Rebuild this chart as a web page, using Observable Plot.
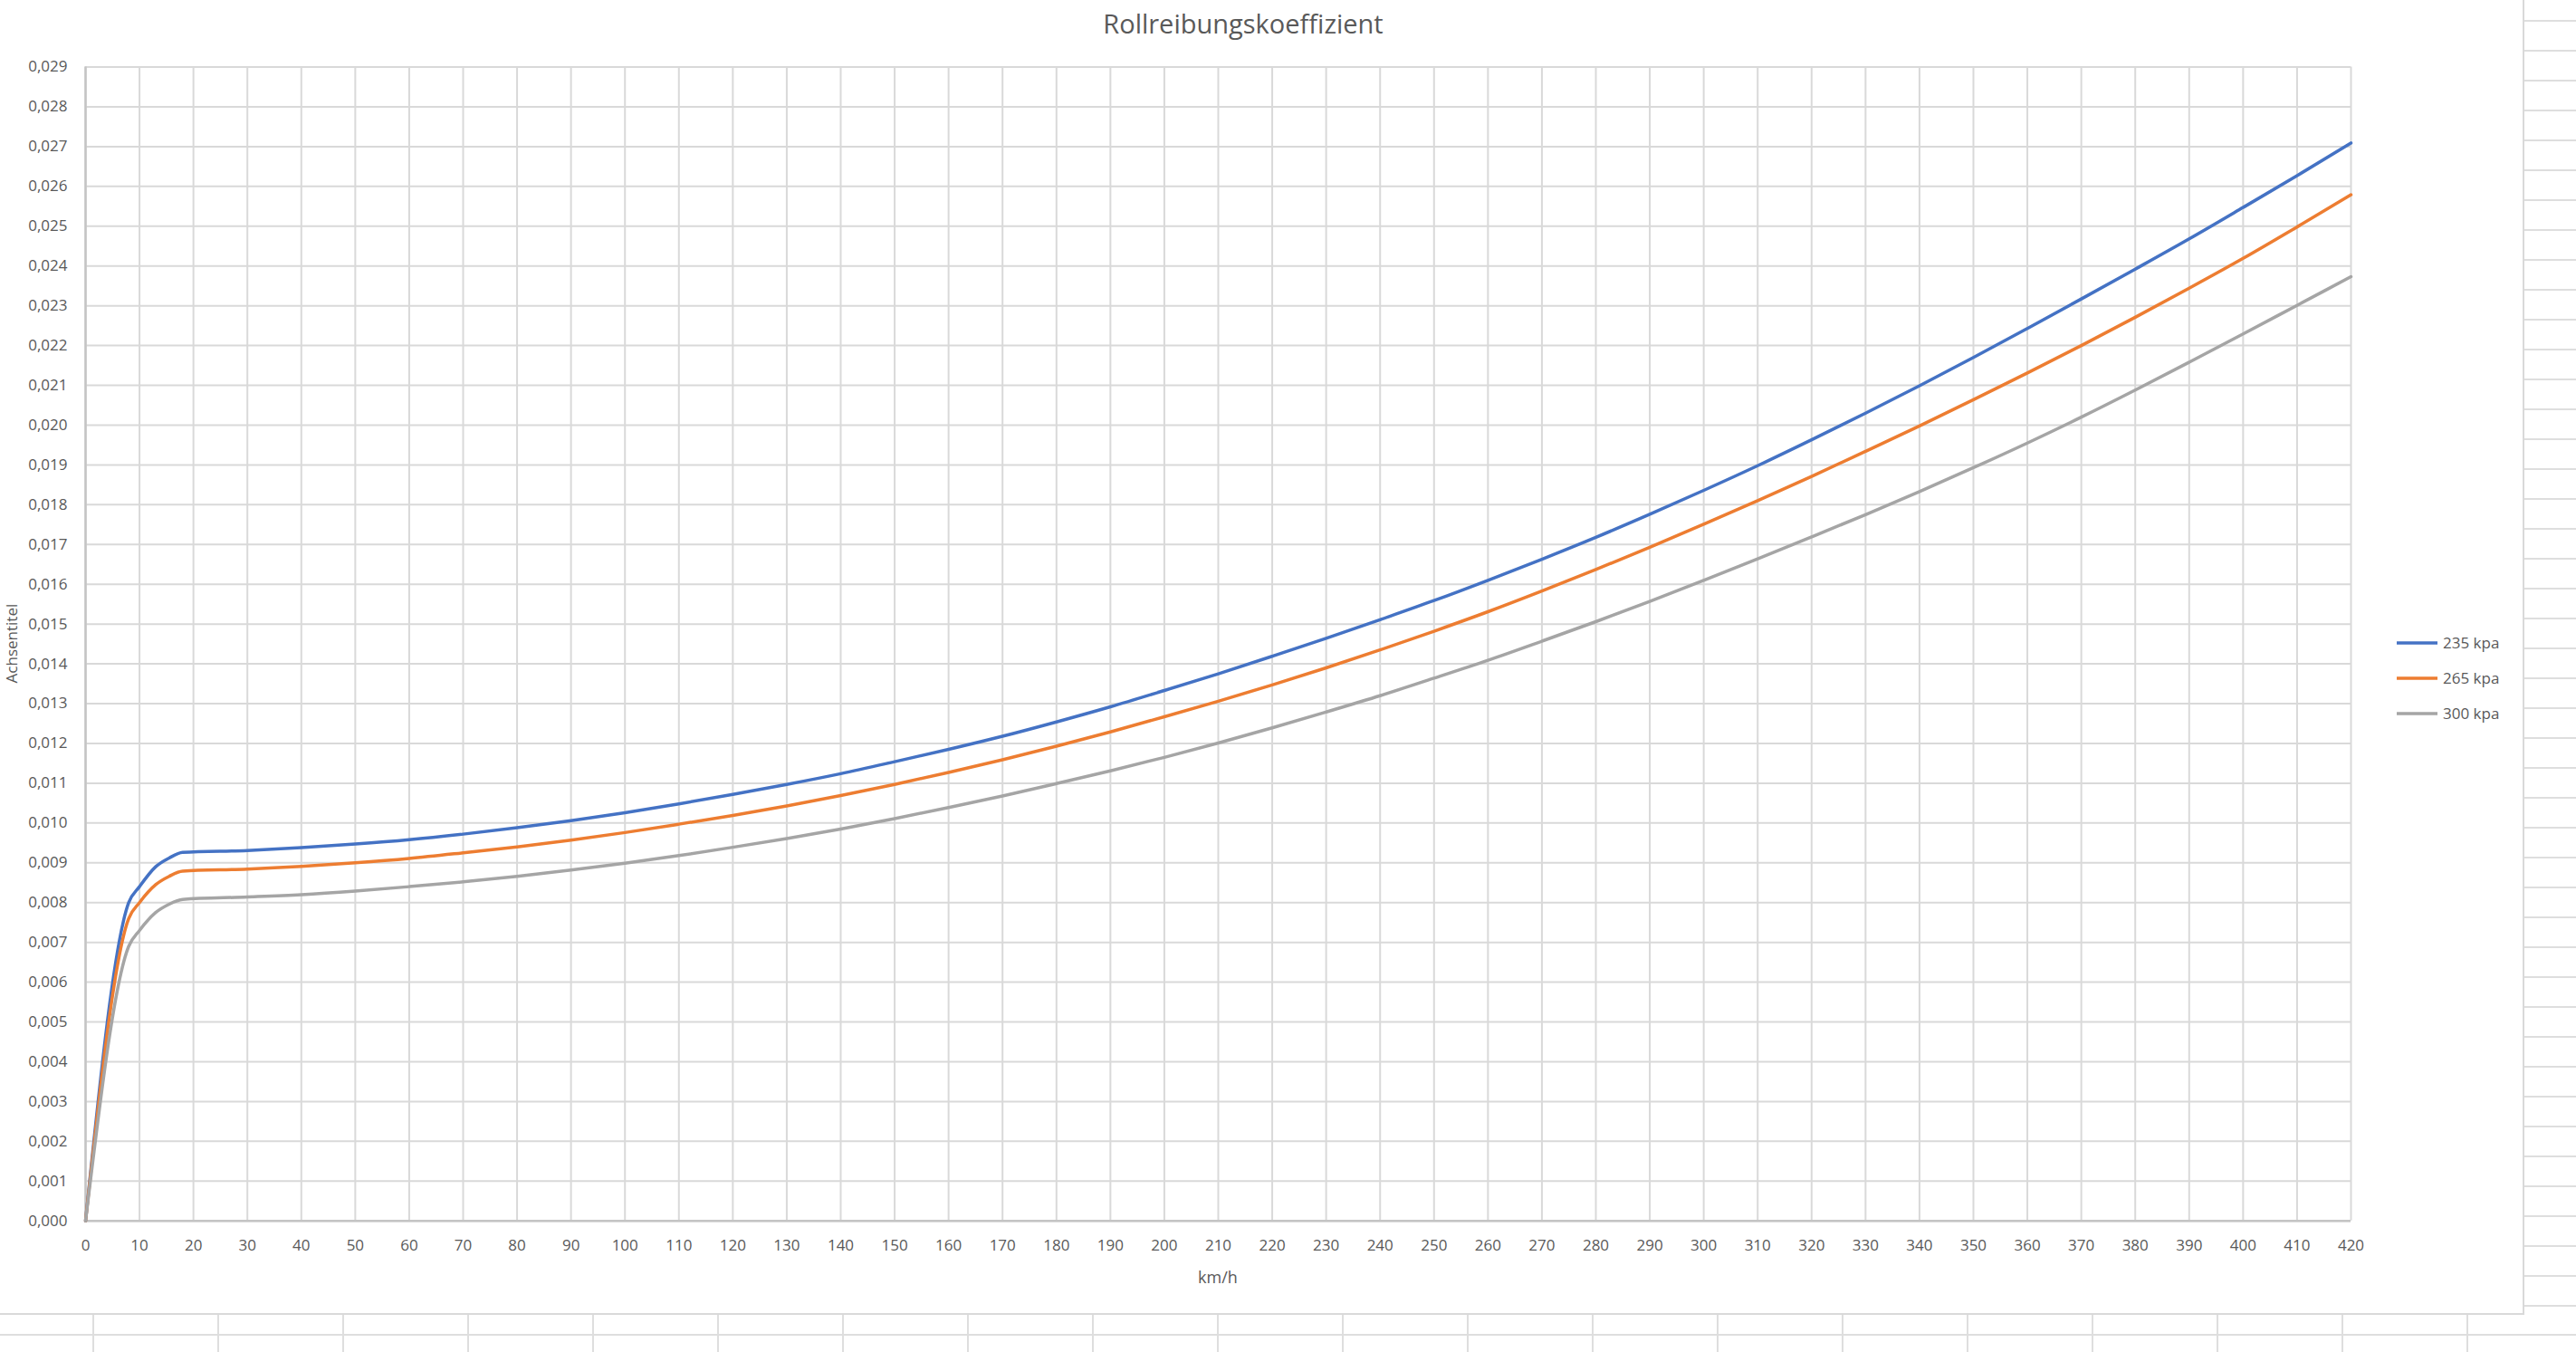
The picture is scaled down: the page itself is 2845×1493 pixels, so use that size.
<!DOCTYPE html>
<html><head><meta charset="utf-8">
<script src="https://cdn.jsdelivr.net/npm/d3@7"></script>
<script src="https://cdn.jsdelivr.net/npm/@observablehq/plot@0.6"></script>
<style>
html,body{margin:0;padding:0;background:#fff;}
#wrap{position:relative;width:2845px;height:1493px;overflow:hidden;font-family:"Open Sans",sans-serif;}
.abs{position:absolute;}
#area{left:-20px;top:-20px;width:2806px;height:1470px;border-right:2px solid #d9d9d9;border-bottom:2px solid #d9d9d9;background:#fff;}
#cellsR{left:2788px;top:0;width:57px;height:1474px;background-image:linear-gradient(#dedede 2px, transparent 2px);background-size:100% 33px;background-position:0 22px;}
#cellsB{left:0;top:1452px;width:2845px;height:41px;
  background-image:linear-gradient(to right,#dedede 2px,transparent 2px),linear-gradient(#dedede 2px,transparent 2px);
  background-size:138px 100%,100% 200px;background-position:102px 0,0 21px;background-repeat:repeat-x,no-repeat;}
#plot svg{position:absolute;left:0;top:0;}
#overlay{position:absolute;left:0;top:0;}
</style>
</head><body>
<div id="wrap">
  <div id="cellsR" class="abs"></div>
  <div id="cellsB" class="abs"></div>
  <div id="area" class="abs"></div>
  <div id="plot"></div>
  <svg id="overlay" width="2845" height="1493"></svg>
</div>
<script>
// ---- Data ----
const chartTitle = "Rollreibungskoeffizient";
const xTitle = "km/h";
const yTitle = "Achsentitel";
const series = ["235 kpa", "265 kpa", "300 kpa"];
const colors = ["#4472C4", "#ED7D31", "#A5A5A5"];

const xTicks = [0,10,20,30,40,50,60,70,80,90,100,110,120,130,140,150,160,170,180,190,200,210,220,230,240,250,260,270,280,290,300,310,320,330,340,350,360,370,380,390,400,410,420];
const yTicks = [0,0.001,0.002,0.003,0.004,0.005,0.006,0.007,0.008,0.009,0.010,0.011,0.012,0.013,0.014,0.015,0.016,0.017,0.018,0.019,0.020,0.021,0.022,0.023,0.024,0.025,0.026,0.027,0.028,0.029];

const speed = [0, 8, 10, 13, 15.5, 18, 30, 40, 50, 60, 70, 80, 90, 100, 110, 120, 130, 140, 150, 160, 170, 180, 190, 200, 210, 220, 230, 240, 250, 260, 270, 280, 290, 300, 310, 320, 330, 340, 350, 360, 370, 380, 390, 400, 410, 420];

const kpa235 = [0, 0.00800, 0.00840, 0.00890, 0.00912, 0.00926, 0.00931, 0.00938, 0.00947, 0.00958, 0.00972, 0.00988, 0.01006, 0.01026, 0.01048, 0.01072, 0.01097, 0.01124, 0.01154, 0.01185, 0.01218, 0.01254, 0.01292, 0.01333, 0.01375, 0.01419, 0.01464, 0.01511, 0.01559, 0.01610, 0.01663, 0.01718, 0.01776, 0.01836, 0.01898, 0.01963, 0.02030, 0.02099, 0.02170, 0.02243, 0.02317, 0.02392, 0.02468, 0.02547, 0.02627, 0.02709];

const kpa265 = [0, 0.00760, 0.00800, 0.00845, 0.00866, 0.00879, 0.00884, 0.00891, 0.00900, 0.00911, 0.00925, 0.00940, 0.00957, 0.00976, 0.00997, 0.01019, 0.01043, 0.01069, 0.01097, 0.01127, 0.01159, 0.01193, 0.01229, 0.01267, 0.01306, 0.01347, 0.01390, 0.01435, 0.01482, 0.01531, 0.01583, 0.01637, 0.01693, 0.01751, 0.01810, 0.01871, 0.01934, 0.01998, 0.02064, 0.02131, 0.02200, 0.02271, 0.02344, 0.02419, 0.02498, 0.02579];

const kpa300 = [0, 0.00690, 0.00730, 0.00775, 0.00796, 0.00808, 0.00814, 0.00820, 0.00829, 0.00840, 0.00852, 0.00866, 0.00882, 0.00899, 0.00918, 0.00939, 0.00961, 0.00985, 0.01011, 0.01039, 0.01068, 0.01099, 0.01131, 0.01165, 0.01201, 0.01239, 0.01279, 0.01320, 0.01364, 0.01409, 0.01457, 0.01506, 0.01557, 0.01610, 0.01664, 0.01719, 0.01775, 0.01833, 0.01893, 0.01955, 0.02020, 0.02088, 0.02158, 0.02229, 0.02301, 0.02373];

const values = [kpa235, kpa265, kpa300];
const data = series.flatMap((s, i) => speed.map((v, j) => ({series: s, speed: v, value: values[i][j]})));

// ---- Layout ----
const W = 2845, H = 1493;
const mL = 94, mR = 249, mT = 73.5, mB = 145.3;
const textColor = "#595959";
const fmt = d => d3.format(".3f")(d).replace(".", ",");

const chart = Plot.plot({
  width: W, height: H,
  marginLeft: mL, marginRight: mR, marginTop: mT, marginBottom: mB,
  style: {fontFamily: "'Open Sans', sans-serif", fontSize: "17px", color: textColor, background: "transparent", maxWidth: "none"},
  x: {domain: [0, 420]},
  y: {domain: [0, 0.029]},
  color: {domain: series, range: colors},
  marks: [
    Plot.gridX(xTicks, {stroke: "#d9d9d9", strokeOpacity: 1, strokeWidth: 2}),
    Plot.gridY(yTicks, {stroke: "#d9d9d9", strokeOpacity: 1, strokeWidth: 2}),
    Plot.ruleX([0], {stroke: "#c4c4c4", strokeWidth: 2.5}),
    Plot.ruleY([0], {stroke: "#c4c4c4", strokeWidth: 2.5}),
    Plot.axisX(xTicks, {tickSize: 0, tickPadding: 21, label: null, fontSize: 17}),
    Plot.axisY(yTicks, {tickSize: 0, tickPadding: 20, label: null, tickFormat: fmt, fontSize: 17}),
    Plot.line(data, {x: "speed", y: "value", stroke: "series", strokeWidth: 3.5, curve: "monotone-x", strokeLinejoin: "round"})
  ]
});
document.getElementById("plot").appendChild(chart);

// ---- Titles and legend ----
const ov = d3.select("#overlay").style("font-family", "'Open Sans', sans-serif");
ov.append("text").attr("x", 1373).attr("y", 37).attr("text-anchor", "middle")
  .attr("font-size", 29).attr("fill", textColor).text(chartTitle);
ov.append("text").attr("x", (mL + (W - mR)) / 2).attr("y", 1417).attr("text-anchor", "middle")
  .attr("font-size", 18).attr("fill", textColor).text(xTitle);
ov.append("text").attr("transform", `translate(19,${(mT + (H - mB)) / 2}) rotate(-90)`).attr("text-anchor", "middle")
  .attr("font-size", 17).attr("fill", textColor).text(yTitle);

const leg = ov.append("g");
series.forEach((s, i) => {
  const cy = 710 + i * 39;
  leg.append("line").attr("x1", 2647).attr("x2", 2692).attr("y1", cy).attr("y2", cy)
    .attr("stroke", colors[i]).attr("stroke-width", 3.5);
  leg.append("text").attr("x", 2698).attr("y", cy).attr("dy", "0.35em")
    .attr("font-size", 17).attr("fill", textColor).text(s);
});
</script>
</body></html>
